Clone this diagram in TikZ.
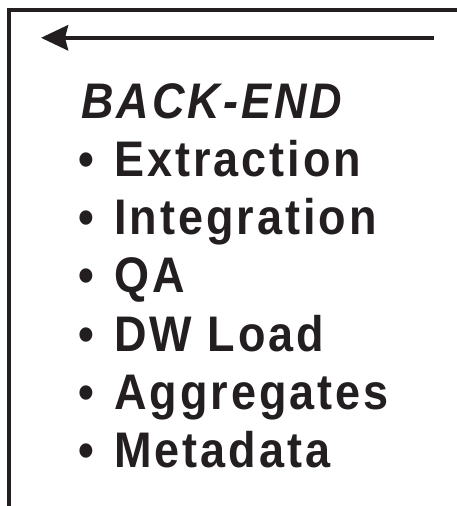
\documentclass[tikz,border=0pt]{standalone}
\usepackage{fontspec}
\setmainfont{Liberation Sans}
\newfontfamily\listfont[FakeStretch=0.9,LetterSpace=6]{Liberation Sans}
\usetikzlibrary{arrows.meta}
\definecolor{ink}{RGB}{35,31,32}
\begin{document}
\begin{tikzpicture}[x=1pt,y=-1pt,
  item/.style={anchor=base west,inner sep=0pt,text=ink,font=\listfont\fontsize{50}{50}\selectfont\bfseries},
  heading/.style={item,font=\listfont\fontsize{50}{50}\selectfont\bfseries\itshape},
  frameline/.style={draw=ink,line width=4.3pt},
  flow/.style={draw=ink,line width=4.6pt,-{Stealth[length=27pt,width=25pt,inset=3pt]}}]
  \useasboundingbox (0,0) rectangle (456,506);
  % open frame: top edge and left edge
  \coordinate (ftr) at (456,9.7);
  \coordinate (ftl) at (9.3,9.7);
  \coordinate (fbl) at (9.3,506);
  \draw[frameline,line cap=rect] (ftr) -- (ftl) -- (fbl);
  % flow arrow pointing left
  \coordinate (astart) at (434,37.8);
  \coordinate (aend) at (41,37.8);
  \draw[flow] (astart) -- (aend);
  % heading and list
  \node[heading] (title) at (81,118) {BACK-END};
  \foreach \t [count=\i] in {Extraction,Integration,QA,DW Load,Aggregates,Metadata}
    \node[item] (item\i) at (78.5,118+58.3*\i) {•\hspace{20pt}\t};
\end{tikzpicture}
\end{document}
